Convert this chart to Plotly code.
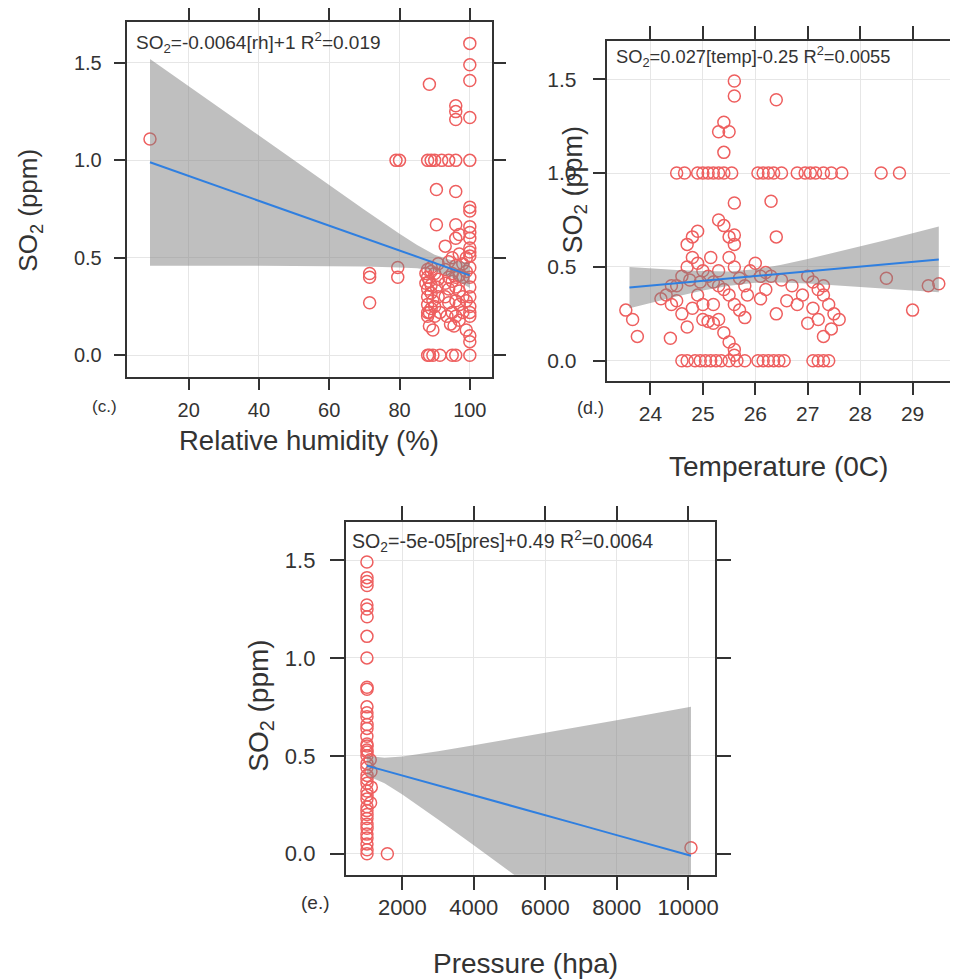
import plotly.graph_objects as go

# ---- (c.) relative humidity vs SO2 ----
rh = [9, 100, 100, 100, 88.5, 96, 96, 100, 96,
      79, 80, 88, 89, 90, 92, 94, 96, 100,
      90.5, 96, 100, 100, 90.5, 96, 97, 100, 100, 100, 96,
      100, 100, 100, 99, 97, 95, 94, 93, 91, 89, 88, 96, 98,
      87.5, 88, 88.5, 89, 88, 89, 88, 89.5, 88, 89, 88.5, 88, 90, 91, 90.5, 91, 90, 91.5, 90, 89, 87.5, 88,
      93, 94, 95, 96, 97, 98, 99, 100, 93, 94, 95, 96, 97, 98, 99, 100, 100, 100, 100, 100, 100,
      95, 96, 97, 93.5, 94.5, 95.5, 100, 100, 99, 98, 97, 96, 94, 93,
      89.5, 88.5,
      88, 88.5, 89.5, 91.5, 95, 96, 100,
      71.5, 71.5, 71.5, 79.5, 79.5]
so2_rh = [1.11, 1.60, 1.49, 1.41, 1.39, 1.28, 1.25, 1.22, 1.21,
          1.0, 1.0, 1.0, 1.0, 1.0, 1.0, 1.0, 1.0, 1.0,
          0.85, 0.84, 0.76, 0.74, 0.67, 0.67, 0.62, 0.66, 0.63, 0.60, 0.60,
          0.55, 0.53, 0.51, 0.50, 0.52, 0.50, 0.48, 0.56, 0.47, 0.45, 0.44, 0.46, 0.47,
          0.42, 0.40, 0.38, 0.36, 0.34, 0.32, 0.30, 0.28, 0.26, 0.24, 0.22, 0.20, 0.42, 0.39, 0.35, 0.30, 0.25, 0.22, 0.20, 0.43, 0.37, 0.22,
          0.44, 0.40, 0.38, 0.35, 0.33, 0.30, 0.28, 0.25, 0.30, 0.27, 0.22, 0.20, 0.18, 0.40, 0.43, 0.45, 0.40, 0.35, 0.30, 0.22, 0.20,
          0.42, 0.40, 0.41, 0.20, 0.16, 0.15, 0.10, 0.07, 0.13, 0.22, 0.26, 0.28, 0.34, 0.37,
          0.13, 0.15,
          0.0, 0.0, 0.0, 0.0, 0.0, 0.0, 0.0,
          0.42, 0.40, 0.27, 0.45, 0.40]
rh_fit_x = [9, 20, 30, 40, 50, 60, 70, 80, 85, 90, 95, 100]
rh_fit_y = [0.99, 0.92, 0.856, 0.792, 0.728, 0.665, 0.601, 0.537, 0.506, 0.474, 0.442, 0.41]
rh_upper = [1.52, 1.38, 1.253, 1.126, 0.998, 0.872, 0.747, 0.623, 0.566, 0.516, 0.486, 0.475]
rh_lower = [0.46, 0.46, 0.459, 0.459, 0.458, 0.457, 0.455, 0.451, 0.446, 0.432, 0.398, 0.345]

# ---- (d.) temperature vs SO2 ----
temp = [25.6, 25.6, 25.4, 25.3, 25.5, 25.4, 26.4,
        24.5, 24.65, 24.9, 25.0, 25.1, 25.2, 25.3, 25.4, 25.55, 26.05, 26.15, 26.25, 26.35, 26.5, 26.8,
        26.95, 27.05, 27.15, 27.3, 27.45, 27.65, 28.4, 28.75,
        25.6, 26.3, 25.3, 25.4, 26.4, 25.6, 24.8, 24.9, 24.7, 25.5, 25.6,
        23.53, 23.66, 23.75, 24.38,
        24.6, 24.7, 24.85, 24.95, 25.05, 25.15, 25.25, 25.35, 25.5, 25.65, 25.8,
        26.05, 26.15, 26.25, 26.35, 26.45, 26.55, 27.1, 27.2, 27.3, 27.4,
        25.6, 25.6, 27.3,
        28.5, 29.3, 29.5, 29.0,
        27.0, 27.1, 27.2, 27.3, 27.4, 27.5, 27.6, 27.1, 27.2, 27.3, 26.9, 26.7, 26.5, 26.3, 26.2, 26.1,
        26.4, 26.6, 27.0, 27.45, 26.8, 26.1, 26.2,
        24.3, 24.4, 24.5, 24.6, 24.7, 24.8, 24.9, 25.0, 25.1, 25.2, 25.3, 25.4, 25.5, 25.6, 25.7, 25.8,
        25.0, 25.1, 25.2, 25.3, 24.8, 24.6, 24.5, 24.9, 25.5, 25.6, 25.7, 25.8, 25.9, 26.0, 24.4, 24.2,
        25.4, 25.5, 25.2, 24.7, 25.0, 25.85, 24.95, 25.3, 25.15, 24.75]
so2_temp = [1.49, 1.41, 1.27, 1.22, 1.22, 1.11, 1.39,
            1.0, 1.0, 1.0, 1.0, 1.0, 1.0, 1.0, 1.0, 1.0, 1.0, 1.0, 1.0, 1.0, 1.0, 1.0,
            1.0, 1.0, 1.0, 1.0, 1.0, 1.0, 1.0, 1.0,
            0.84, 0.85, 0.75, 0.72, 0.66, 0.67, 0.66, 0.69, 0.62, 0.66, 0.62,
            0.27, 0.22, 0.13, 0.12,
            0.0, 0.0, 0.0, 0.0, 0.0, 0.0, 0.0, 0.0, 0.0, 0.0, 0.0,
            0.0, 0.0, 0.0, 0.0, 0.0, 0.0, 0.0, 0.0, 0.0, 0.0,
            0.06, 0.03, 0.13,
            0.44, 0.40, 0.41, 0.27,
            0.45, 0.42, 0.38, 0.35, 0.30, 0.25, 0.22, 0.28, 0.22, 0.40, 0.35, 0.40, 0.43, 0.45, 0.38, 0.33,
            0.25, 0.32, 0.20, 0.17, 0.30, 0.45, 0.47,
            0.35, 0.30, 0.40, 0.45, 0.50, 0.55, 0.52, 0.48, 0.45, 0.42, 0.40, 0.38, 0.35, 0.30, 0.27, 0.23,
            0.22, 0.21, 0.20, 0.22, 0.28, 0.25, 0.32, 0.35, 0.55, 0.50, 0.44, 0.40, 0.48, 0.52, 0.40, 0.33,
            0.15, 0.10, 0.30, 0.18, 0.30, 0.35, 0.42, 0.48, 0.55, 0.43]
temp_fit_x = [23.6, 24, 24.5, 25, 25.5, 26, 26.5, 27, 27.5, 28, 28.5, 29, 29.5]
temp_fit_y = [0.39, 0.40, 0.413, 0.426, 0.438, 0.451, 0.464, 0.477, 0.489, 0.502, 0.514, 0.527, 0.54]
temp_upper = [0.50, 0.492, 0.484, 0.478, 0.476, 0.487, 0.511, 0.542, 0.575, 0.609, 0.644, 0.679, 0.715]
temp_lower = [0.28, 0.308, 0.342, 0.374, 0.40, 0.416, 0.417, 0.412, 0.404, 0.395, 0.384, 0.375, 0.365]

# ---- (e.) pressure vs SO2 ----
pres = [1008, 1010, 1009, 1011, 1007, 1010, 1012, 1009, 1008, 1010, 1011, 1009, 1008, 1010,
        1012, 1009, 1007, 1010, 1011, 1008, 1012, 1009, 1100, 1010, 1008, 1120, 1011, 1009,
        1010, 1130, 1008, 1012, 1009, 1110, 1010, 1008, 1011, 1009, 1010, 1012, 1008, 1010,
        1009, 1011, 1010, 1580, 10080]
so2_pres = [1.49, 1.41, 1.39, 1.37, 1.27, 1.25, 1.21, 1.11, 1.00, 0.85, 0.84, 0.75, 0.72, 0.70,
            0.66, 0.64, 0.60, 0.56, 0.55, 0.53, 0.52, 0.50, 0.48, 0.46, 0.44, 0.42, 0.40, 0.38,
            0.36, 0.34, 0.32, 0.30, 0.28, 0.26, 0.24, 0.22, 0.20, 0.18, 0.15, 0.13, 0.10, 0.08,
            0.05, 0.02, 0.00, 0.00, 0.03]
pres_fit_x = [1000, 1500, 2000, 3000, 4000, 5000, 6000, 7000, 8000, 9000, 10080]
pres_fit_y = [0.45, 0.425, 0.399, 0.349, 0.298, 0.247, 0.197, 0.146, 0.095, 0.045, -0.01]
pres_upper = [0.50, 0.49, 0.496, 0.523, 0.554, 0.585, 0.618, 0.65, 0.682, 0.715, 0.75]
pres_lower = [0.40, 0.36, 0.302, 0.175, 0.043, -0.091, -0.224, -0.358, -0.492, -0.625, -0.77]

# page body has an 8px margin, so the figure is 8px smaller than the window
OFF = 8
W, H = 958 - OFF, 979 - OFF
FONT = "Arial, Liberation Sans, sans-serif"
PT_COLOR = "#EE5F5F"
BAND = "rgba(128,128,128,0.5)"
LINE = "#2F7FE0"
AX = "#333333"

panels = [
    dict(ax="", x=rh, y=so2_rh, fx=rh_fit_x, fy=rh_fit_y, up=rh_upper, lo=rh_lower),
    dict(ax="2", x=temp, y=so2_temp, fx=temp_fit_x, fy=temp_fit_y, up=temp_upper, lo=temp_lower),
    dict(ax="3", x=pres, y=so2_pres, fx=pres_fit_x, fy=pres_fit_y, up=pres_upper, lo=pres_lower),
]

fig = go.Figure()
for p in panels:
    xa, ya = "x" + p["ax"], "y" + p["ax"]
    fig.add_trace(go.Scatter(
        x=p["x"], y=p["y"], mode="markers", xaxis=xa, yaxis=ya,
        marker=dict(symbol="circle-open", size=12, color=PT_COLOR, line=dict(width=1.5)),
        showlegend=False))
    fig.add_trace(go.Scatter(
        x=p["fx"] + p["fx"][::-1], y=p["up"] + p["lo"][::-1], xaxis=xa, yaxis=ya,
        fill="toself", fillcolor=BAND, mode="lines", line=dict(width=0),
        showlegend=False))
    fig.add_trace(go.Scatter(
        x=p["fx"], y=p["fy"], mode="lines", xaxis=xa, yaxis=ya,
        line=dict(color=LINE, width=2), showlegend=False))


def px(v):
    return min(1.0, (v - OFF) / W)


def py(v):
    return 1 - (v - OFF) / H


def axis(anchor, domain, rng, tickvals, size, ticklen, standoff, mirror="allticks", fmt=None):
    d = dict(anchor=anchor, domain=domain, range=rng, tickvals=tickvals, showline=True,
             linecolor=AX, linewidth=1.5, mirror=mirror, ticks="outside",
             ticklen=ticklen, tickwidth=1.5, tickcolor=AX,
             ticklabelstandoff=standoff,
             tickfont=dict(family=FONT, size=size, color=AX),
             showgrid=True, gridcolor="#e6e6e6", gridwidth=1, zeroline=False)
    if fmt:
        d["tickformat"] = fmt
    return d


so2_ticks = [0.0, 0.5, 1.0, 1.5]
fig.update_layout(
    width=W, height=H, margin=dict(l=0, r=0, t=0, b=0),
    paper_bgcolor="white", plot_bgcolor="white",
    xaxis=axis("y", [px(128), px(494)], [2.6, 106.3], [20, 40, 60, 80, 100], 20, 12, 3),
    yaxis=axis("x", [py(373), py(16)], [-0.11, 1.71], so2_ticks, 20, 12, 8, fmt=".1f"),
    xaxis2=axis("y2", [px(610), 1.0], [23.18, 29.79], [24, 25, 26, 27, 28, 29], 21, 13, 0),
    yaxis2=axis("x2", [py(377), py(35)], [-0.106, 1.704], so2_ticks, 21, 13, 12,
                mirror=False, fmt=".1f"),
    xaxis3=axis("y3", [px(347), px(718)], [410, 10753], [2000, 4000, 6000, 8000, 10000],
                22, 14, -2, fmt="d"),
    yaxis3=axis("x3", [py(874), py(519)], [-0.107, 1.695], so2_ticks, 22, 14, 10, fmt=".1f"),
)

notes = [
    (30, 205, "SO<sub>2</sub> (ppm)", 26, -90, "center"),
    (577, 185, "SO<sub>2</sub> (ppm)", 27, -90, "center"),
    (262, 704, "SO<sub>2</sub> (ppm)", 28, -90, "center"),
    (310, 437, "Relative humidity (%)", 27.5, 0, "center"),
    (782, 463, "Temperature (0C)", 28, 0, "center"),
    (528, 963, "Pressure (hpa)", 28, 0, "center"),
    (105, 403, "(c.)", 17, 0, "center"),
    (593, 404, "(d.)", 18, 0, "center"),
    (317, 902, "(e.)", 19, 0, "center"),
    (135, 37, "SO<sub>2</sub>=-0.0064[rh]+1 R<sup>2</sup>=0.019", 19, 0, "left"),
    (617, 51, "SO<sub>2</sub>=0.027[temp]-0.25 R<sup>2</sup>=0.0055", 18.3, 0, "left"),
    (351, 539, "SO<sub>2</sub>=-5e-05[pres]+0.49 R<sup>2</sup>=0.0064", 19.6, 0, "left"),
]
for x, y, text, size, angle, anchor in notes:
    fig.add_annotation(x=px(x), y=py(y), xref="paper", yref="paper", text=text,
                       showarrow=False, textangle=angle, xanchor=anchor, yanchor="middle",
                       font=dict(family=FONT, size=size, color=AX))

fig.write_html("out.html")
